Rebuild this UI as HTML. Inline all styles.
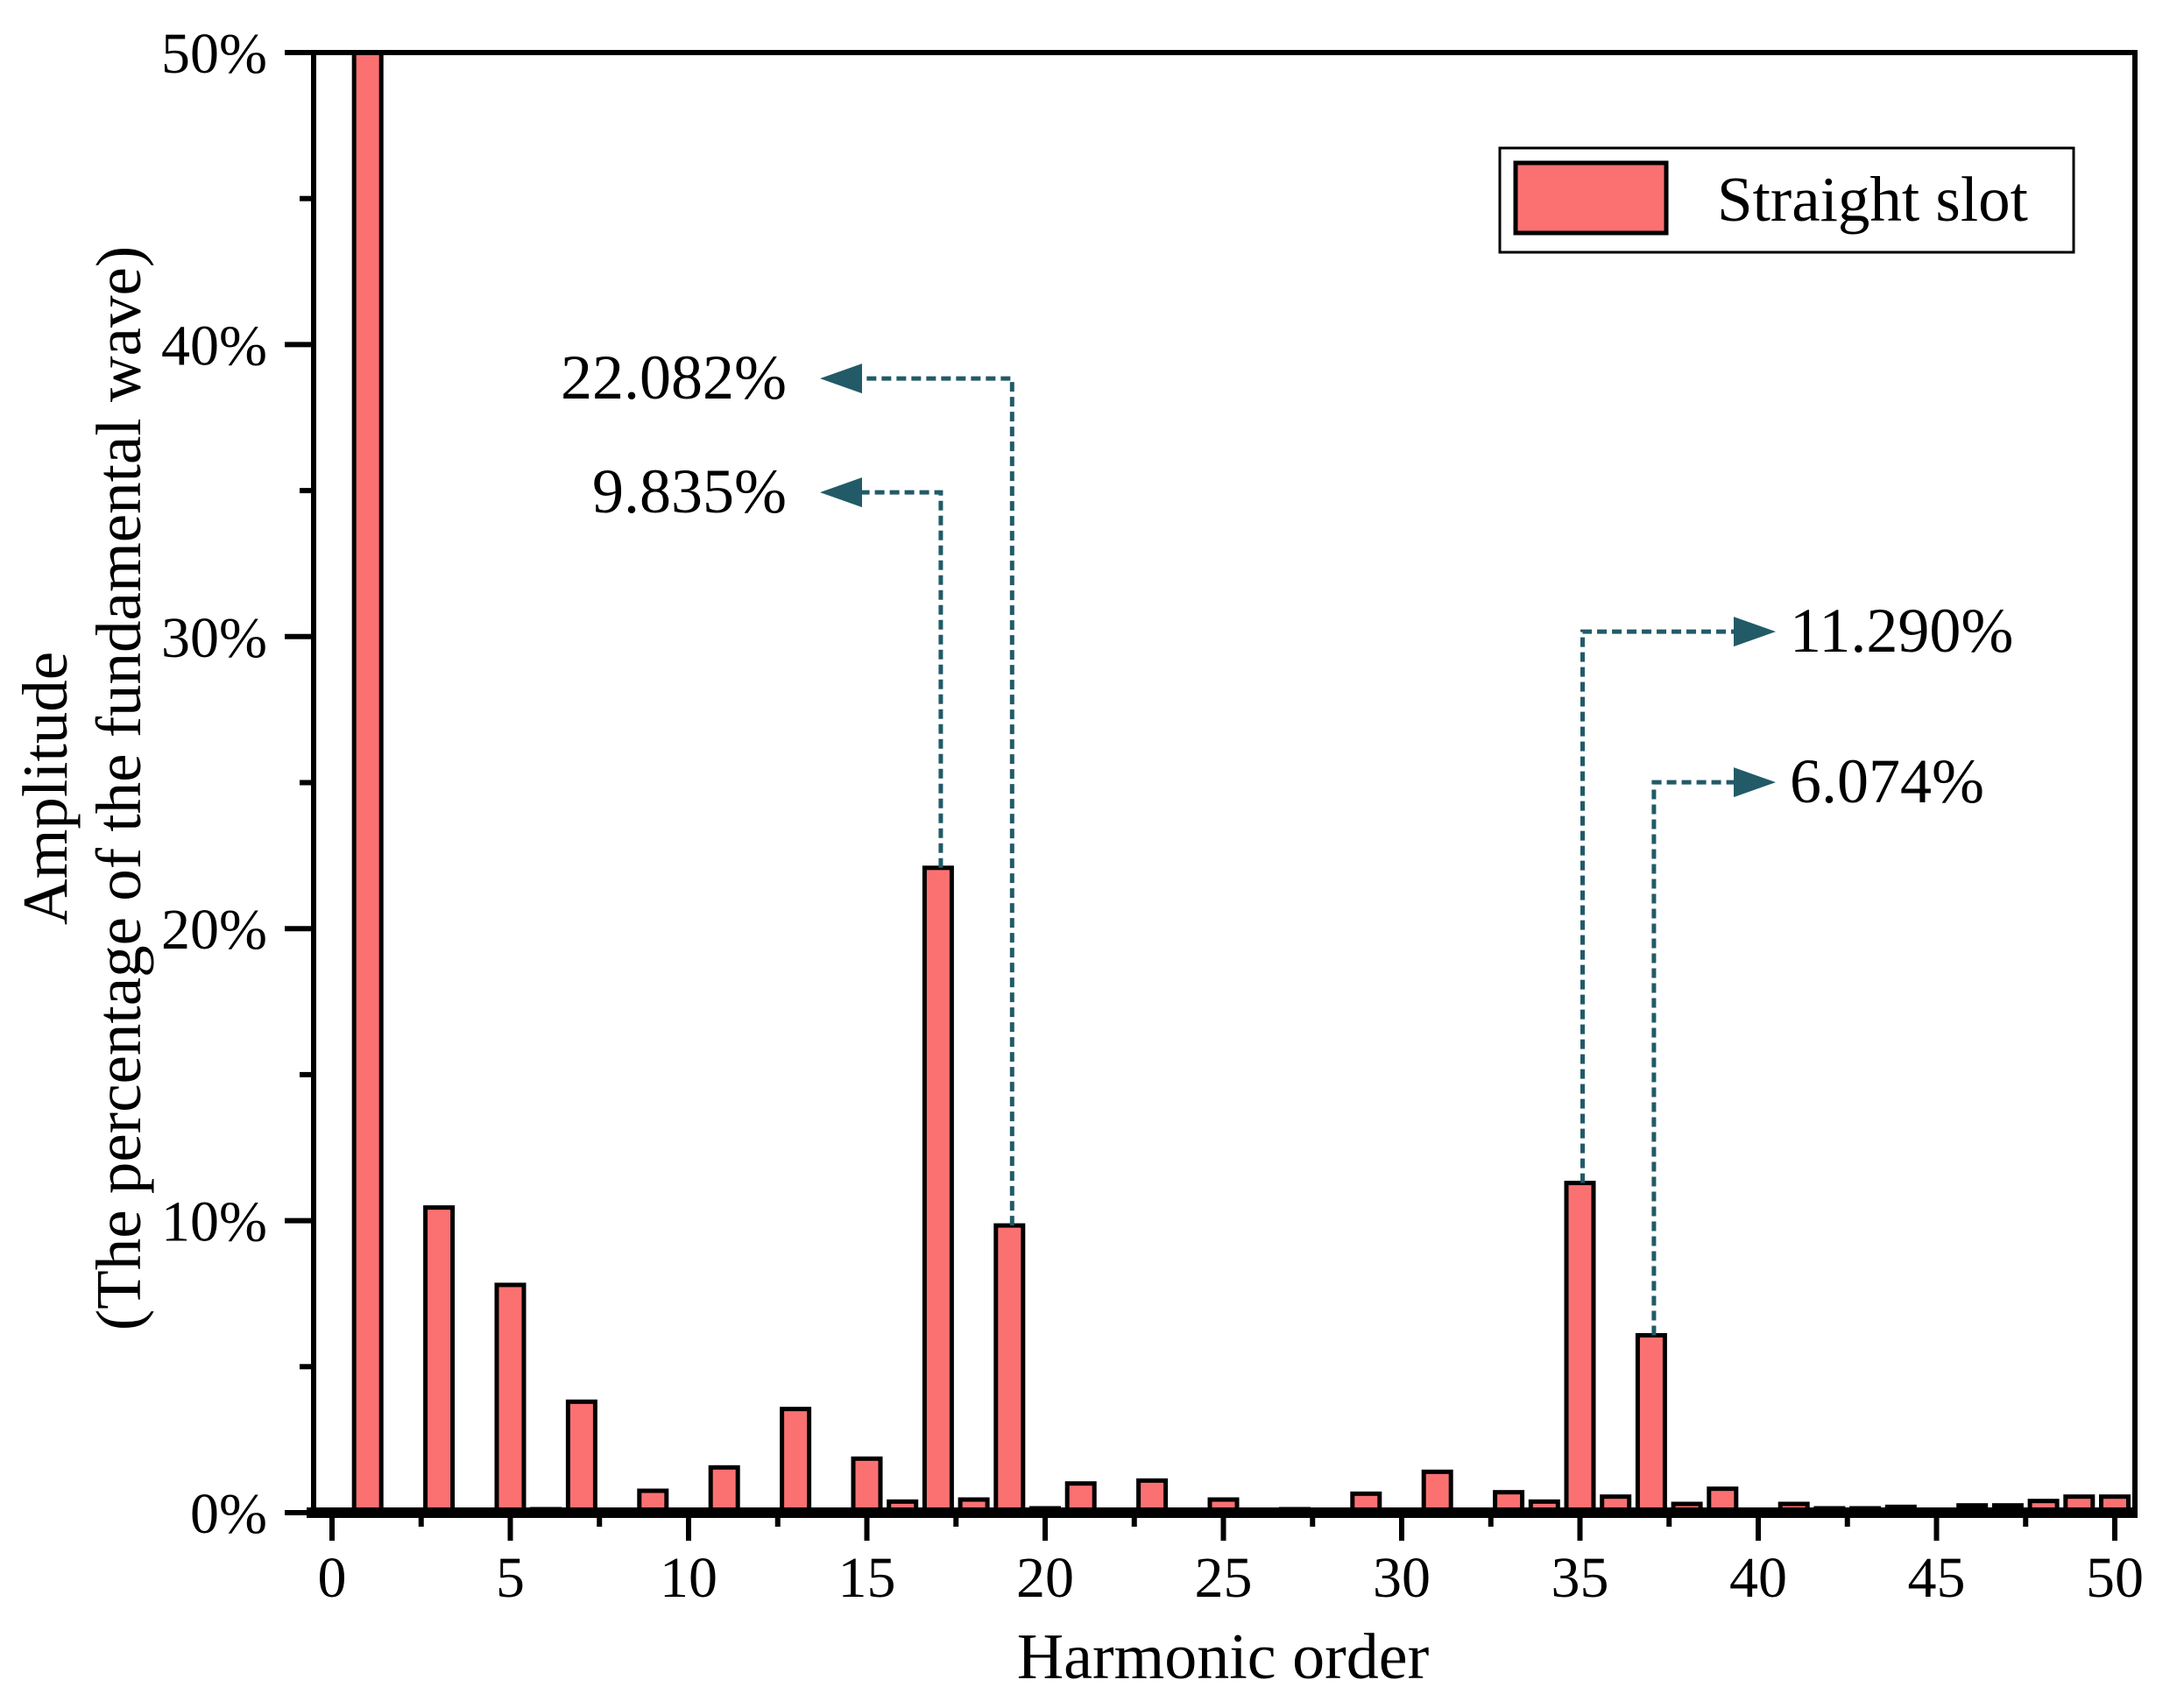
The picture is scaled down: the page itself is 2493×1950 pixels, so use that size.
<!DOCTYPE html>
<html><head><meta charset="utf-8"><style>
html,body{margin:0;padding:0;background:#fff;}
svg{display:block;font-family:"Liberation Serif",serif;}
</style></head><body>
<svg id="chart" width="2493" height="1950" viewBox="0 0 2493 1950" xmlns="http://www.w3.org/2000/svg">
<g id="bars"></g>
<g id="axes"></g>
<g id="annot"></g>
<text x="1396" y="1916" font-size="74" text-anchor="middle">Harmonic order</text>
<g transform="translate(0,900) rotate(-90)">
<text x="0" y="76" font-size="73" text-anchor="middle">Amplitude</text>
<text x="0" y="160" font-size="73" text-anchor="middle">(The percentage of the fundamental wave)</text>
</g>
<g>
<rect x="1712" y="169" width="655" height="119" fill="#fff" stroke="#000" stroke-width="3"/>
<rect x="1730" y="186" width="172" height="80" fill="#fb7171" stroke="#000" stroke-width="5"/>
<text x="1960" y="252" font-size="73">Straight slot</text>
</g>
</svg>
<script>
const harmonics = [1,2,3,4,5,6,7,8,9,10,11,12,13,14,15,16,17,18,19,20,21,22,23,24,25,26,27,28,29,30,31,32,33,34,35,36,37,38,39,40,41,42,43,44,45,46,47,48,49,50];
const amplitudes = [100,0.05,10.45,0.05,7.8,0.12,3.8,0.05,0.75,0.05,1.55,0.07,3.55,0.05,1.85,0.38,22.082,0.45,9.835,0.15,1.0,0.05,1.1,0.05,0.45,0.03,0.12,0,0.65,0.05,1.4,0.05,0.7,0.38,11.29,0.55,6.074,0.3,0.82,0,0.3,0.15,0.15,0.2,0.1,0.25,0.25,0.4,0.55,0.55];
const xTickValues = [0,5,10,15,20,25,30,35,40,45,50];
const yTickValues = [0,10,20,30,40,50];
const yTickLabels = ["0%","10%","20%","30%","40%","50%"];
const annotHarmonics = [19,17,35,37];
const annotLevels = [38.84,34.94,30.17,25.01];
const annotLabels = ["22.082%","9.835%","11.290%","6.074%"];
const annotDirs = [-1,-1,1,1];

const NS="http://www.w3.org/2000/svg";
const L=358,R=2437,T=60,B=1727;
const xs=h=>379+40.7*h;
const ys=v=>B-(v/50)*(B-T);
function mk(tag,attrs,parent){const e=document.createElementNS(NS,tag);for(const k in attrs)e.setAttribute(k,attrs[k]);parent.appendChild(e);return e;}
const gb=document.getElementById('bars'),ga=document.getElementById('axes'),gn=document.getElementById('annot');
const clip=mk('clipPath',{id:'pc'},document.getElementById('chart'));
mk('rect',{x:L,y:T,width:R-L,height:B-T},clip);
gb.setAttribute('clip-path','url(#pc)');
const bw=31;
harmonics.forEach((h,i)=>{
  const v=amplitudes[i]; if(v<=0) return;
  const y=ys(v);
  const r=mk('rect',{x:xs(h)-bw/2,y:y,width:bw,height:B-y,fill:'#fb7171',stroke:'#000','stroke-width':5},gb);
  
  
});
const fr=mk('rect',{x:L,y:T,width:R-L,height:B-T,fill:'none',stroke:'#000','stroke-width':6},ga);


mk('line',{x1:L-8,y1:B,x2:R+3,y2:B,stroke:'#000','stroke-width':12},ga);
for(let h=0;h<=50;h+=2.5){
  const major=(h%5===0);
  mk('line',{x1:xs(h),y1:B,x2:xs(h),y2:major?1759:1743,stroke:'#000','stroke-width':6},ga);
}
xTickValues.forEach(v=>{
  const t=mk('text',{x:xs(v),y:1823,'font-size':66,'text-anchor':'middle'},ga);
  t.textContent=v;
  
  
});
for(let v=0;v<=50;v+=5){
  const major=(v%10===0);
  mk('line',{x1:L,y1:ys(v),x2:major?325:342,y2:ys(v),stroke:'#000','stroke-width':6},ga);
}
yTickValues.forEach((v,i)=>{
  const t=mk('text',{x:305,y:ys(v)+23,'font-size':66,'text-anchor':'end'},ga);
  t.textContent=yTickLabels[i];
  
  
});
const col='#225a68';
annotHarmonics.forEach((h,i)=>{
  const x=xs(h)+3, yTop=ys(amplitudes[h-1]), yl=ys(annotLevels[i]), d=annotDirs[i];
  const tip = d<0 ? 936 : 2027;
  const base = tip - d*48;
  const p=mk('path',{d:`M${x},${yTop} L${x},${yl} L${base},${yl}`,fill:'none',stroke:col,'stroke-width':5,'stroke-dasharray':'11,6'},gn);
  
  
  const a=mk('polygon',{points:`${tip},${yl} ${base},${yl-17} ${base},${yl+17}`,fill:col},gn);
  
  
  const t=mk('text',{x:d<0?898:2043,y:yl+23,'font-size':72,'text-anchor':d<0?'end':'start'},gn);
  t.textContent=annotLabels[i];
  
  
});
</script>
</body></html>
